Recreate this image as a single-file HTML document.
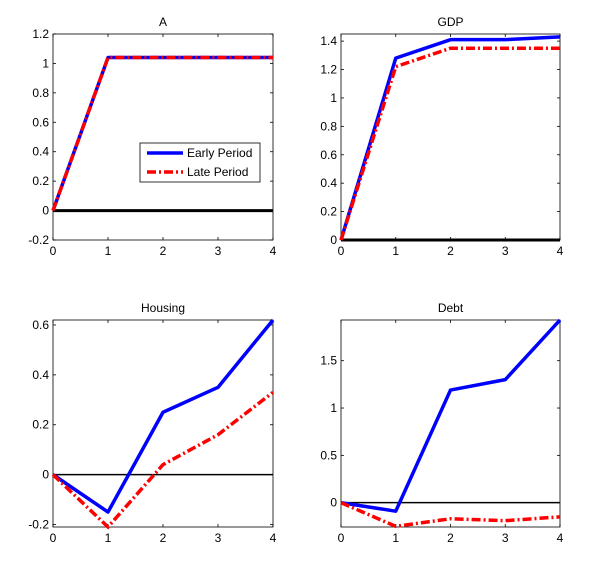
<!DOCTYPE html>
<html><head><meta charset="utf-8"><style>
body{margin:0;background:#fff;}
svg text{font-family:"Liberation Sans",sans-serif;font-size:12px;fill:#000;}
</style></head><body>
<svg id="c" width="600" height="577"></svg>
<script>
const xCats=[0,1,2,3,4];
const aEarly=[0,1.04,1.04,1.04,1.04];
const aLate=[0,1.04,1.04,1.04,1.04];
const gdpEarly=[0,1.28,1.41,1.41,1.43];
const gdpLate=[0,1.22,1.35,1.35,1.35];
const housingEarly=[0,-0.15,0.25,0.35,0.62];
const housingLate=[0,-0.21,0.04,0.16,0.33];
const debtEarly=[0,-0.09,1.19,1.30,1.93];
const debtLate=[0,-0.25,-0.17,-0.19,-0.15];
const aTicks=[-0.2,0,0.2,0.4,0.6,0.8,1,1.2];
const gdpTicks=[0,0.2,0.4,0.6,0.8,1,1.2,1.4];
const housingTicks=[-0.2,0,0.2,0.4,0.6];
const debtTicks=[0,0.5,1,1.5];
const svg=document.getElementById('c');
const NS='http://www.w3.org/2000/svg';
function mk(t,a,p){const e=document.createElementNS(NS,t);for(const k in a)e.setAttribute(k,a[k]);(p||svg).appendChild(e);return e;}
const panels=[
 {key:'a',title:'A',x:53,y:34,w:220,h:206,ymin:-0.2,ymax:1.2,ticks:aTicks,e:aEarly,l:aLate,zw:3,legend:true},
 {key:'gdp',title:'GDP',x:341,y:34,w:219,h:206,ymin:0,ymax:1.45,ticks:gdpTicks,e:gdpEarly,l:gdpLate,zw:3},
 {key:'housing',title:'Housing',x:53,y:320,w:220,h:207,ymin:-0.21,ymax:0.62,ticks:housingTicks,e:housingEarly,l:housingLate,zw:1.5},
 {key:'debt',title:'Debt',x:341,y:320,w:219,h:207,ymin:-0.257,ymax:1.93,ticks:debtTicks,e:debtEarly,l:debtLate,zw:1.5}
];
panels.forEach(p=>{
 const g=mk('g',{});
 
 
 const sx=v=>p.x+v/4*p.w;
 const sy=v=>p.y+p.h-(v-p.ymin)/(p.ymax-p.ymin)*p.h;
 mk('rect',{x:p.x,y:p.y,width:p.w,height:p.h,fill:'#fff',stroke:'#000','stroke-width':0.8},g);
 const t=mk('text',{x:p.x+p.w/2,y:p.y-8,'text-anchor':'middle'},g);t.textContent=p.title;
 
 p.ticks.forEach(v=>{const y=sy(v);
  mk('line',{x1:p.x,x2:p.x+3,y1:y,y2:y,stroke:'#000','stroke-width':0.8},g);
  mk('line',{x1:p.x+p.w-3,x2:p.x+p.w,y1:y,y2:y,stroke:'#000','stroke-width':0.8},g);
  const tt=mk('text',{x:p.x-4,y:y+4,'text-anchor':'end'},g);tt.textContent=String(v);
  });
 xCats.forEach(v=>{const x=sx(v);
  mk('line',{x1:x,x2:x,y1:p.y+p.h,y2:p.y+p.h-3,stroke:'#000','stroke-width':0.8},g);
  mk('line',{x1:x,x2:x,y1:p.y,y2:p.y+3,stroke:'#000','stroke-width':0.8},g);
  const tt=mk('text',{x:x,y:p.y+p.h+15,'text-anchor':'middle'},g);tt.textContent=String(v);
  });
 const z=mk('line',{x1:p.x,x2:p.x+p.w,y1:sy(0),y2:sy(0),stroke:'#000','stroke-width':p.zw},g);
 
 const pe=mk('polyline',{points:xCats.map((c,i)=>sx(c)+','+sy(p.e[i])).join(' '),fill:'none',stroke:'#0000ff','stroke-width':3.5,'stroke-linejoin':'round'},g);
 
 const pl=mk('polyline',{points:xCats.map((c,i)=>sx(c)+','+sy(p.l[i])).join(' '),fill:'none',stroke:'#ff0000','stroke-width':3.5,'stroke-dasharray':'9,3,2,3'},g);
 
 if(p.legend){
  const lg=mk('g',{},g);
  mk('rect',{x:140,y:143,width:120,height:39,fill:'#fff',stroke:'#000','stroke-width':0.8},lg);
  mk('line',{x1:147,x2:183,y1:153,y2:153,stroke:'#0000ff','stroke-width':3.5},lg);
  mk('line',{x1:147,x2:183,y1:172,y2:172,stroke:'#ff0000','stroke-width':3.5,'stroke-dasharray':'9,3,2,3'},lg);
  const t1=mk('text',{x:187,y:157},lg);t1.textContent='Early Period';
  
  const t2=mk('text',{x:187,y:176},lg);t2.textContent='Late Period';
  
 }
});
</script>
</body></html>
